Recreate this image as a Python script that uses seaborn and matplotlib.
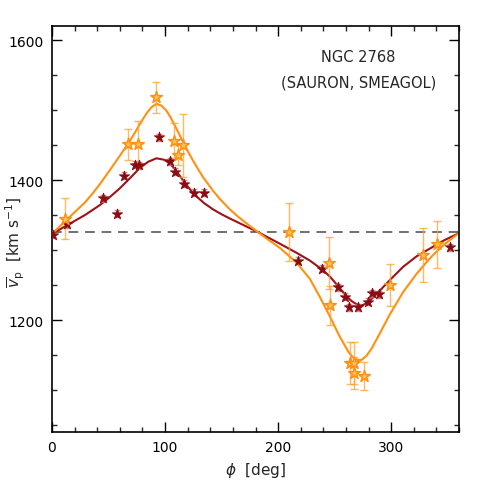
import numpy as np
import pandas as pd
import matplotlib
matplotlib.use("Agg")
import matplotlib.pyplot as plt
import seaborn as sns
from matplotlib.ticker import MultipleLocator

# ---- data ----
# SAURON (dark red) points
sauron_phi = [1, 13.3, 45.1, 57.8, 63.5, 73.5, 77, 94.4, 104.8, 108.8, 116.8, 125.4, 134.5,
              217.2, 238.4, 253.1, 259.6, 263.1, 271.1, 279.1, 282.9, 289.1, 352.2]
sauron_v = [1322, 1337, 1374, 1352, 1406, 1422, 1421, 1461, 1427, 1412, 1395, 1382, 1382,
            1285, 1273, 1247, 1233, 1218, 1218, 1226, 1238, 1237, 1304]
sauron_err = [5] * len(sauron_phi)

# SMEAGOL (orange) points
smeagol_phi = [11.8, 67.6, 75.8, 91.8, 107.7, 111.5, 115.7, 209.5, 244.8, 246.0,
               263.5, 267.0, 267.3, 275.6, 298.9, 327.8, 340.8]
smeagol_v = [1345, 1451, 1451, 1518, 1456, 1436, 1450, 1326, 1281, 1221,
             1138, 1138, 1124, 1120, 1250, 1293, 1308]
smeagol_err = [29, 22, 33, 22, 26, 15, 45, 41, 37, 28,
               30, 30, 23, 20, 30, 38, 33]

# model curves
red_curve_phi = [0, 13, 29.2, 42.2, 50, 59.9, 68, 77.6, 85, 92.4, 99, 104, 109, 113, 118.9,
                 125.4, 134.5, 142.5, 150, 157.3, 165, 172, 181.8, 191, 201.5, 216.3, 228,
                 239.8, 245.8, 251.7, 260.5, 265, 269.4, 272.5, 275.2, 278.5, 282.6, 290,
                 298.8, 310.6, 322.5, 334.2, 347, 360]
red_curve_v = [1323, 1335, 1350, 1364, 1374, 1388, 1401, 1417, 1426, 1431, 1429, 1424, 1415,
               1406, 1393, 1380, 1367, 1358, 1351, 1345, 1339, 1333.5, 1326, 1318, 1309, 1296,
               1285, 1271, 1262, 1251, 1234, 1227, 1222.5, 1221, 1221.5, 1224.5, 1230, 1242,
               1257, 1276, 1291, 1302, 1314, 1324]

orange_curve_phi = [0, 11.5, 20, 29.2, 36, 42.3, 48, 54.6, 61, 67.3, 72, 76, 80, 84, 88,
                    92.4, 97, 101.2, 105, 108.6, 112, 116, 120, 124.8, 129, 133.6, 142.5,
                    148.4, 157.3, 165, 172, 181.8, 191, 201.5, 216.3, 228, 236.9, 245.8,
                    254.6, 262, 266, 270, 274, 278.2, 282.6, 290, 298.8, 310.6, 322.5,
                    334.2, 340.2, 350, 360]
orange_curve_v = [1323, 1341, 1354, 1368, 1381, 1394, 1407, 1422, 1437, 1452, 1464, 1475, 1486,
                  1496, 1504, 1509, 1506, 1499, 1489, 1478, 1467, 1454, 1441.5, 1427.5, 1416,
                  1404, 1384.5, 1373, 1358, 1347, 1338, 1326, 1315, 1303, 1282, 1259, 1233,
                  1205, 1176, 1155, 1147, 1143, 1143, 1149, 1159, 1181, 1208, 1240, 1266,
                  1288, 1298, 1312, 1324]

v_sys = 1326
x_ticks = [0, 100, 200, 300]
y_ticks = [1200, 1400, 1600]

# colours
RED = "#9E1218"
RED_PT = "#8A0C12"
ORANGE = "#FF9010"

sns.set_style("ticks")
plt.rcParams["font.family"] = ["DejaVu Sans"]
plt.rcParams["mathtext.fontset"] = "dejavusans"

fig = plt.figure(figsize=(4.85, 4.85), dpi=100)
ax = fig.add_axes([52 / 485, 52 / 485, 407 / 485, 406 / 485])

ax.axhline(v_sys, color="#707070", lw=1.4, ls=(0, (5, 3.5)), zorder=1)

red_df = pd.DataFrame({"phi": red_curve_phi, "v": red_curve_v})
or_df = pd.DataFrame({"phi": orange_curve_phi, "v": orange_curve_v})
sns.lineplot(data=red_df, x="phi", y="v", sort=False, color=RED, lw=1.5, ax=ax, zorder=2)
sns.lineplot(data=or_df, x="phi", y="v", sort=False, color=ORANGE, lw=1.5, ax=ax, zorder=2)

ax.errorbar(sauron_phi, sauron_v, yerr=sauron_err, fmt="none", ecolor="#C8707A",
            elinewidth=1.0, capsize=2.5, capthick=1.0, alpha=0.8, zorder=3)
ax.errorbar(smeagol_phi, smeagol_v, yerr=smeagol_err, fmt="none", ecolor="#FFA030",
            elinewidth=1.0, capsize=3, capthick=1.0, alpha=0.75, zorder=3)

s_df = pd.DataFrame({"phi": sauron_phi, "v": sauron_v})
m_df = pd.DataFrame({"phi": smeagol_phi, "v": smeagol_v})
sns.scatterplot(data=s_df, x="phi", y="v", marker="*", s=60, color=RED_PT,
                edgecolor=RED_PT, linewidth=0.6, ax=ax, zorder=4)
sns.scatterplot(data=m_df, x="phi", y="v", marker="*", s=75, color="#FFC060",
                edgecolor=ORANGE, linewidth=1.1, ax=ax, zorder=4)

ax.set_xlim(0, 360)
ax.set_ylim(1040, 1620)
ax.set_xticks(x_ticks)
ax.set_yticks(y_ticks)
ax.xaxis.set_minor_locator(MultipleLocator(20))
ax.yaxis.set_minor_locator(MultipleLocator(50))
ax.tick_params(which="major", direction="in", top=True, right=True, length=7, width=1.0,
               labelsize=10, colors="black", pad=6)
ax.tick_params(which="minor", direction="in", top=True, right=True, length=3.5, width=1.0)
for sp in ax.spines.values():
    sp.set_visible(True)
    sp.set_linewidth(1.2)
    sp.set_color("black")

ax.set_xlabel(r"$\phi$  [deg]", fontsize=11, labelpad=4)
ax.set_ylabel(r"$\overline{v}_{\rm p}$  [km s$^{-1}$]", fontsize=11)
ax.yaxis.set_label_coords(-0.062, 0.47)

ax.text(0.753, 0.925, "NGC 2768", transform=ax.transAxes, ha="center", va="center", fontsize=10.5)
ax.text(0.753, 0.862, "(SAURON, SMEAGOL)", transform=ax.transAxes, ha="center", va="center", fontsize=10.5)

fig.savefig("out.png", dpi=100)
